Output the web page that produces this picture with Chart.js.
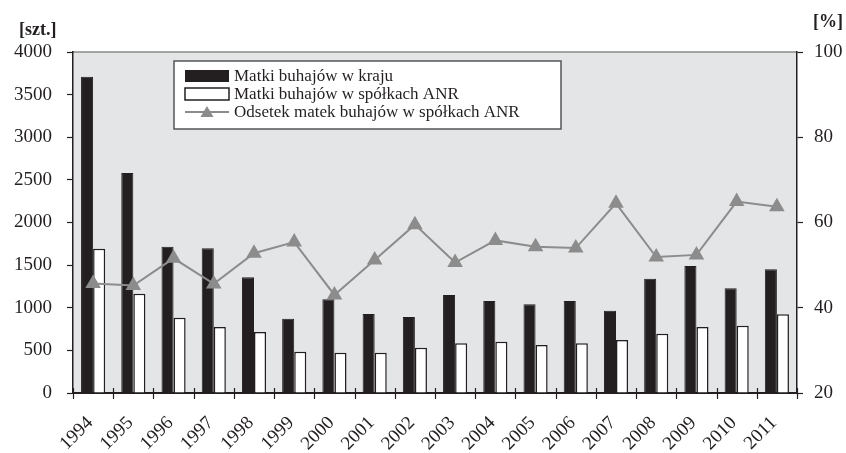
<!DOCTYPE html>
<html>
<head>
<meta charset="utf-8">
<script src="https://cdn.jsdelivr.net/npm/chart.js@4.4.1/dist/chart.umd.min.js"></script>
<style>
  html, body { margin: 0; padding: 0; background: #fff; }
  #wrap { width: 846px; height: 453px; position: relative; }
</style>
</head>
<body>
<div id="wrap"><canvas id="bullChart"></canvas></div>
<script>
// --- data ---
const years = ['1994', '1995', '1996', '1997', '1998', '1999', '2000', '2001', '2002',
               '2003', '2004', '2005', '2006', '2007', '2008', '2009', '2010', '2011'];
const countryDams = [3710, 2580, 1716, 1697, 1357, 872, 1099, 927, 891,
                     1150, 1079, 1040, 1079, 965, 1341, 1490, 1228, 1451];
const anrDams = [1693, 1165, 884, 774, 716, 485, 473, 473, 532,
                 583, 602, 563, 583, 622, 696, 774, 790, 923];
const anrShare = [45.7, 45.2, 51.6, 45.6, 52.8, 55.4, 43.0, 51.2, 59.5,
                  50.6, 55.8, 54.3, 54.0, 64.5, 51.9, 52.4, 64.9, 63.7];
const countTicks = [0, 500, 1000, 1500, 2000, 2500, 3000, 3500, 4000];
const pctTicks = [20, 40, 60, 80, 100];

const labels = ['Matki buhajów w kraju', 'Matki buhajów w spółkach ANR', 'Odsetek matek buhajów w spółkach ANR'];

const INK = '#231f20';
const GREY = '#8c8c8c';
const SERIF = '"Liberation Serif", "DejaVu Serif", serif';

// background, frame, rotated year labels, legend box and unit labels
const decorPlugin = {
    id: 'decor',
    beforeDraw(chart) {
        const { ctx, chartArea: a } = chart;
        ctx.save();
        ctx.fillStyle = '#e4e5e7';
        ctx.fillRect(a.left, a.top, a.right - a.left, a.bottom - a.top);
        ctx.strokeStyle = '#8a8a8a';
        ctx.lineWidth = 1.5;
        ctx.beginPath();
        ctx.moveTo(a.left, a.top);
        ctx.lineTo(a.right, a.top);
        ctx.stroke();
        ctx.restore();
    },
    afterDraw(chart) {
        const { ctx, chartArea: a } = chart;
        const xs = chart.scales.x;
        ctx.save();

        // x tick marks crossing the axis line
        ctx.strokeStyle = INK;
        ctx.lineWidth = 1.2;
        for (let i = 0; i <= years.length; i++) {
            const gx = Math.round(a.left + (a.right - a.left) * i / years.length) + 0.5;
            ctx.beginPath();
            ctx.moveTo(gx, a.bottom - 5);
            ctx.lineTo(gx, a.bottom + 6);
            ctx.stroke();
        }

        // rotated year labels
        ctx.fillStyle = INK;
        ctx.font = '19px ' + SERIF;
        ctx.textAlign = 'right';
        ctx.textBaseline = 'middle';
        years.forEach((y, i) => {
            const px = xs.getPixelForTick(i);
            ctx.save();
            ctx.translate(px - 3, a.bottom + 27);
            ctx.rotate(-Math.PI / 4);
            ctx.fillText(y, 0, 0);
            ctx.restore();
        });

        // unit labels
        ctx.font = 'bold 18px ' + SERIF;
        ctx.textBaseline = 'alphabetic';
        ctx.textAlign = 'left';
        ctx.fillText('[szt.]', 19, 35);
        ctx.textAlign = 'right';
        ctx.fillText('[%]', 843, 27);

        // legend box
        const lx = a.left + 101, ly = a.top + 9, lw = 387, lh = 68;
        ctx.fillStyle = '#ffffff';
        ctx.fillRect(lx, ly, lw, lh);
        ctx.strokeStyle = '#555';
        ctx.lineWidth = 1.5;
        ctx.strokeRect(lx, ly, lw, lh);

        const sx = lx + 11, sw = 44;
        const rows = [ly + 15, ly + 33, ly + 51];
        ctx.fillStyle = INK;
        ctx.fillRect(sx, rows[0] - 6, sw, 12);
        ctx.fillStyle = '#fff';
        ctx.fillRect(sx, rows[1] - 6, sw, 12);
        ctx.strokeStyle = INK;
        ctx.lineWidth = 1.5;
        ctx.strokeRect(sx, rows[1] - 6, sw, 12);
        ctx.strokeStyle = GREY;
        ctx.lineWidth = 2;
        ctx.beginPath();
        ctx.moveTo(sx, rows[2]);
        ctx.lineTo(sx + sw, rows[2]);
        ctx.stroke();
        ctx.fillStyle = GREY;
        ctx.beginPath();
        ctx.moveTo(sx + sw / 2, rows[2] - 6);
        ctx.lineTo(sx + sw / 2 + 6.5, rows[2] + 5);
        ctx.lineTo(sx + sw / 2 - 6.5, rows[2] + 5);
        ctx.closePath();
        ctx.fill();

        ctx.fillStyle = INK;
        ctx.font = '17px ' + SERIF;
        ctx.textAlign = 'left';
        ctx.textBaseline = 'middle';
        labels.forEach((t, i) => ctx.fillText(t, sx + sw + 5, rows[i] + 1));
        ctx.restore();
    }
};

document.addEventListener('DOMContentLoaded', function () {
    let chartCtx = document.getElementById('bullChart').getContext('2d');

    new Chart(chartCtx, {
        type: 'bar',
        data: {
            labels: years,
            datasets: [
                {
                    label: labels[0],
                    data: countryDams,
                    backgroundColor: INK,
                    borderColor: INK,
                    borderWidth: 1,
                    yAxisID: 'y',
                    order: 2
                },
                {
                    label: labels[1],
                    data: anrDams,
                    backgroundColor: '#ffffff',
                    borderColor: INK,
                    borderWidth: 1.5,
                    yAxisID: 'y',
                    order: 2
                },
                {
                    type: 'line',
                    label: labels[2],
                    data: anrShare,
                    borderColor: GREY,
                    backgroundColor: GREY,
                    borderWidth: 2,
                    pointStyle: 'triangle',
                    pointRadius: 7,
                    pointBackgroundColor: GREY,
                    pointBorderColor: GREY,
                    yAxisID: 'y1',
                    order: 1
                }
            ]
        },
        options: {
            responsive: true,
            maintainAspectRatio: false,
            animation: false,
            layout: { padding: { top: 52, left: 0, right: 0, bottom: 0 } },
            datasets: {
                bar: { categoryPercentage: 0.6, barPercentage: 1.0 }
            },
            scales: {
                x: {
                    offset: true,
                    border: { display: true, color: INK, width: 2 },
                    grid: { display: false },
                    ticks: { display: false, autoSkip: false },
                    afterFit(scale) { scale.height = 60; }
                },
                y: {
                    position: 'left',
                    min: 0,
                    max: 4000,
                    afterBuildTicks(scale) { scale.ticks = countTicks.map(v => ({ value: v })); },
                    border: { display: true, color: INK, width: 1.5 },
                    grid: { drawOnChartArea: false, tickLength: 6, color: INK, tickWidth: 1.2 },
                    ticks: {
                        padding: 15,
                        color: INK,
                        font: { size: 19, family: SERIF },
                        callback: v => String(v)
                    },
                    afterFit(scale) { scale.width = 73; }
                },
                y1: {
                    position: 'right',
                    min: 20,
                    max: 100,
                    afterBuildTicks(scale) { scale.ticks = pctTicks.map(v => ({ value: v })); },
                    border: { display: true, color: INK, width: 1.5 },
                    grid: { drawOnChartArea: false, tickLength: 6, color: INK, tickWidth: 1.2 },
                    ticks: {
                        padding: 11,
                        color: INK,
                        font: { size: 19, family: SERIF },
                        callback: v => String(v)
                    },
                    afterFit(scale) { scale.width = 49; }
                }
            },
            plugins: {
                legend: { display: false },
                tooltip: { enabled: false }
            }
        },
        plugins: [decorPlugin]
    });
});
</script>
</body>
</html>
